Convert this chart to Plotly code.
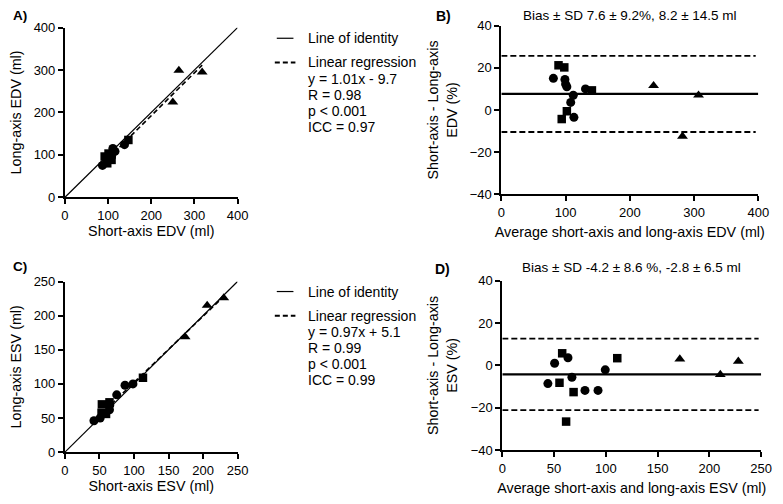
import plotly.graph_objects as go

# =========================
# DATA - EDV (panel A: short vs long axis, panel B: Bland-Altman)
# =========================
edv_sa_circle = [87, 106, 106, 108, 138, 116, 110, 111]
edv_la_circle = [75, 92, 94, 96, 124, 108, 106, 115]
edv_sa_square = [98, 108, 147, 101, 92]
edv_la_square = [80, 88, 135, 103, 96]
edv_sa_triangle = [250, 264, 318]
edv_la_triangle = [224, 299, 295]

edv_avg_circle = [81, 99, 100, 102, 131, 112, 108, 113]
edv_diff_circle = [15, 14.5, 12.3, 11, 10, 7, 3.6, -3.5]
edv_avg_square = [89, 98, 141, 102, 94]
edv_diff_square = [21.2, 20.2, 9.3, -0.6, -4.3]
edv_avg_triangle = [237, 282, 307]
edv_diff_triangle = [11.5, -12.5, 7]

edv_slope, edv_intercept = 1.01, -9.7
edv_reg_x = [87, 318]
edv_bias, edv_sd = 7.6, 9.2
edv_stats = ["y = 1.01x - 9.7", "R = 0.98", "p < 0.001", "ICC = 0.97"]

# =========================
# DATA - ESV (panel C and D)
# =========================
esv_sa_circle = [42, 51, 64.5, 65, 75, 87, 98.5]
esv_la_circle = [46, 50, 62, 69, 84, 98, 100]
esv_sa_square = [59.5, 53, 64.5, 53.5, 113]
esv_la_square = [56, 57.5, 73, 70, 109]
esv_sa_triangle = [174, 206, 230]
esv_la_triangle = [169, 215, 226]

esv_avg_circle = [44, 50.5, 63.4, 67.2, 79.8, 92.4, 99.4]
esv_diff_circle = [-8.6, 1, 3.6, -5.6, -11.8, -11.8, -2.1]
esv_avg_square = [57.8, 55.2, 68.8, 61.6, 111]
esv_diff_square = [5.7, -8.2, -12.6, -26.5, 3.4]
esv_avg_triangle = [171.4, 210.5, 227.9]
esv_diff_triangle = [3, -4.3, 1.9]

esv_slope, esv_intercept = 0.97, 5.1
esv_reg_x = [42, 230]
esv_bias, esv_sd = -4.2, 8.6
esv_stats = ["y = 0.97x + 5.1", "R = 0.99", "p < 0.001", "ICC = 0.99"]

FONT = "Liberation Sans, Arial, sans-serif"
DASH = "6px,3px"
SYMBOLS = [("circle", 9), ("square", 8.5), ("triangle-up", 9.5)]

# page is drawn with an 8px body margin, so work in page pixels and shift
W, H = 775, 488
OFF = 8


def px(x):
    return (x - OFF) / W


def py(y):
    return 1 - (y - OFF) / H


fig = go.Figure()


def add_points(xs, ys, symbol, size, xa, ya):
    fig.add_trace(go.Scatter(
        x=xs, y=ys, mode="markers", xaxis=xa, yaxis=ya, showlegend=False,
        marker=dict(symbol=symbol, size=size, color="black"),
        cliponaxis=False,
    ))


# =========================
# PANEL A / C : correlation
# =========================
for xa, ya, lim, sa, la, slope, icpt, rx in [
    ("x", "y", 400,
     [edv_sa_circle, edv_sa_square, edv_sa_triangle],
     [edv_la_circle, edv_la_square, edv_la_triangle],
     edv_slope, edv_intercept, edv_reg_x),
    ("x3", "y3", 250,
     [esv_sa_circle, esv_sa_square, esv_sa_triangle],
     [esv_la_circle, esv_la_square, esv_la_triangle],
     esv_slope, esv_intercept, esv_reg_x),
]:
    fig.add_trace(go.Scatter(
        x=[0, lim], y=[0, lim], mode="lines", xaxis=xa, yaxis=ya,
        line=dict(color="black", width=1.2), showlegend=False,
    ))
    fig.add_trace(go.Scatter(
        x=rx, y=[slope * v + icpt for v in rx], mode="lines", xaxis=xa, yaxis=ya,
        line=dict(color="black", width=1.6, dash="5px,3px"), showlegend=False,
    ))
    for xs, ys, (sym, size) in zip(sa, la, SYMBOLS):
        add_points(xs, ys, sym, size, xa, ya)

# =========================
# PANEL B / D : Bland-Altman
# =========================
for xa, ya, lim, avgs, diffs, bias, sd in [
    ("x2", "y2", 400,
     [edv_avg_circle, edv_avg_square, edv_avg_triangle],
     [edv_diff_circle, edv_diff_square, edv_diff_triangle], edv_bias, edv_sd),
    ("x4", "y4", 250,
     [esv_avg_circle, esv_avg_square, esv_avg_triangle],
     [esv_diff_circle, esv_diff_square, esv_diff_triangle], esv_bias, esv_sd),
]:
    fig.add_trace(go.Scatter(
        x=[0, lim], y=[bias, bias], mode="lines", xaxis=xa, yaxis=ya,
        showlegend=False, line=dict(color="black", width=2.2),
    ))
    for loa in (bias + 1.96 * sd, bias - 1.96 * sd):
        fig.add_trace(go.Scatter(
            x=[0, lim * 0.99], y=[loa, loa], mode="lines", xaxis=xa, yaxis=ya,
            showlegend=False, line=dict(color="black", width=1.8, dash=DASH),
        ))
    for xs, ys, (sym, size) in zip(avgs, diffs, SYMBOLS):
        add_points(xs, ys, sym, size, xa, ya)

# =========================
# AXES
# =========================


def ax(domain, rng, dtick, title, standoff, anchor):
    return dict(
        domain=domain, range=rng, dtick=dtick, tick0=rng[0], anchor=anchor,
        showgrid=False, zeroline=False, showline=True, linecolor="black",
        linewidth=2, ticks="outside", ticklen=5, tickwidth=2,
        tickcolor="black", tickfont=dict(size=13, color="black"),
        title=dict(text=title, standoff=standoff, font=dict(size=14.3, color="black")),
    )


fig.update_layout(
    xaxis=ax([px(62), px(238)], [0, 400], 100, "Short-axis EDV (ml)", 3, "y"),
    yaxis=ax([py(196), py(21)], [0, 400], 100, "Long-axis EDV (ml)", 10, "x"),
    xaxis2=ax([px(507), px(769)], [0, 400], 100,
              "Average short-axis and long-axis EDV (ml)", 8, "y2"),
    yaxis2=ax([py(193), py(19)], [-40, 40], 20,
              "Short-axis - Long-axis<br>EDV (%)", 9, "x2"),
    xaxis3=ax([px(62), px(238)], [0, 250], 50, "Short-axis ESV (ml)", 3, "y3"),
    yaxis3=ax([py(459), py(283)], [0, 250], 50, "Long-axis ESV (ml)", 9, "x3"),
    xaxis4=ax([px(508), px(772)], [0, 250], 50,
              "Average short-axis and long-axis ESV (ml)", 8, "y4"),
    yaxis4=ax([py(457), py(282)], [-40, 40], 20,
              "Short-axis - Long-axis<br>ESV (%)", 10, "x4"),
)

# =========================
# LEGENDS (drawn as keys + text beside panels A and C)
# =========================
shapes = []
annotations = []


def note(text, x, y, size=14, anchor="left", bold=False):
    annotations.append(dict(
        text=f"<b>{text}</b>" if bold else text, x=px(x), y=py(y),
        xref="paper", yref="paper", xanchor=anchor, yanchor="middle",
        showarrow=False, font=dict(size=size, color="black", family=FONT),
    ))


for top, stats in [(32, edv_stats), (293.3, esv_stats)]:
    shapes.append(dict(type="line", xref="paper", yref="paper",
                       x0=px(278), x1=px(295), y0=py(top), y1=py(top),
                       line=dict(color="black", width=1.2)))
    shapes.append(dict(type="line", xref="paper", yref="paper",
                       x0=px(276), x1=px(297), y0=py(top + 25), y1=py(top + 25),
                       line=dict(color="black", width=1.8, dash="5px,3px")))
    note("Line of identity", 308, top)
    note("Linear regression", 308, top + 25)
    for i, s in enumerate(stats):
        note(s, 308, top + 42 + 16.4 * i)

note("A)", 7, 8.5, size=13.5, bold=True)
note("B)", 438, 9, size=14, bold=True)
note("C)", 7, 267, size=13.5, bold=True)
note("D)", 437, 270, size=14, bold=True)
note("Bias ± SD 7.6 ± 9.2%, 8.2 ± 14.5 ml", 638, 9, size=13.5, anchor="center")
note("Bias ± SD -4.2 ± 8.6 %, -2.8 ± 6.5 ml", 640, 268, size=13.5, anchor="center")

fig.update_layout(
    width=W, height=H,
    margin=dict(l=0, r=0, t=0, b=0),
    plot_bgcolor="white", paper_bgcolor="white",
    font=dict(family=FONT, color="black"),
    showlegend=False,
    shapes=shapes,
    annotations=annotations,
)

fig.write_html("out.html")
